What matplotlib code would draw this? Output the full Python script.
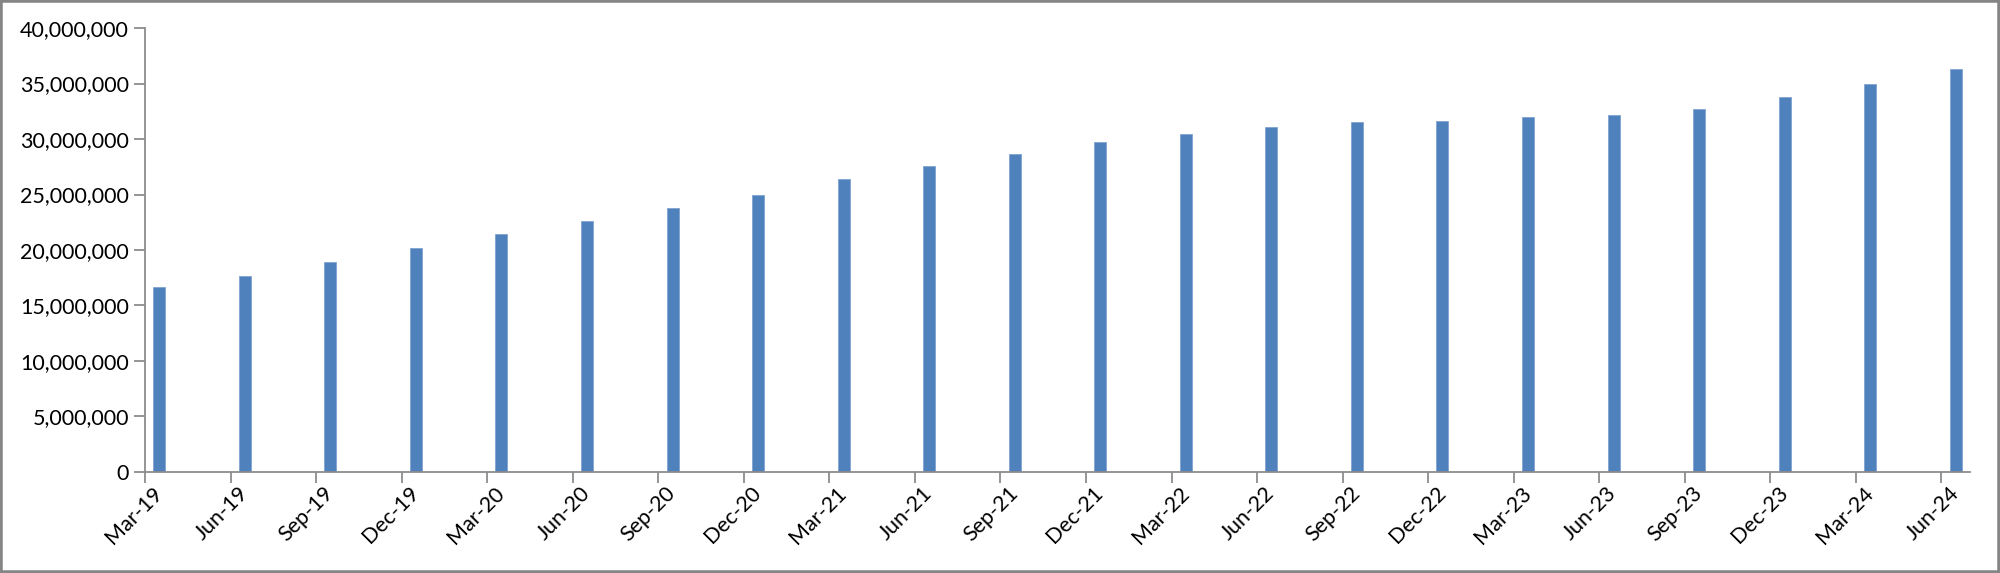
import matplotlib.pyplot as plt
from matplotlib.patches import Rectangle
from matplotlib.ticker import FuncFormatter
import numpy as np

# quarterly values
quarters = ['Mar-19', 'Jun-19', 'Sep-19', 'Dec-19', 'Mar-20', 'Jun-20', 'Sep-20', 'Dec-20',
            'Mar-21', 'Jun-21', 'Sep-21', 'Dec-21', 'Mar-22', 'Jun-22', 'Sep-22', 'Dec-22',
            'Mar-23', 'Jun-23', 'Sep-23', 'Dec-23', 'Mar-24', 'Jun-24']
values = [16640000, 17660000, 18890000, 20180000, 21410000, 22610000, 23810000, 24950000,
          26400000, 27600000, 28620000, 29730000, 30450000, 31050000, 31530000, 31650000,
          31950000, 32140000, 32740000, 33780000, 34980000, 36310000]

plt.rcParams['font.family'] = ['Lato', 'DejaVu Sans']

fig = plt.figure(figsize=(20, 5.73), dpi=100)
ax = fig.add_axes([0.0725, 0.1763, 0.9125, 0.7748])

# date axis in months, one bar per quarter in the first month slot
months = np.arange(len(quarters)) * 3
centers = months + 0.5
ax.bar(centers, values, width=0.42, color='#4F81BD', edgecolor='#7FA3D1', linewidth=0.6)

ax.set_xlim(0, len(quarters) * 3 - 2)
ax.set_ylim(0, 40000000)
ax.set_yticks(np.arange(0, 40000001, 5000000))
ax.yaxis.set_major_formatter(FuncFormatter(lambda v, p: f'{v:,.0f}'))

# ticks on quarter boundaries, labels at the bars
ax.set_xticks(months)
ax.set_xticklabels([])
ax.set_xticks(centers, quarters, minor=True)
ax.tick_params(axis='x', which='minor', length=0, pad=13)
for lab in ax.get_xticklabels(minor=True):
    lab.set_rotation(45)
    lab.set_ha('right')
    lab.set_va('center')
    lab.set_rotation_mode('anchor')

gray = '#8C8C8C'
ax.tick_params(axis='both', which='major', length=8, width=1.3, color=gray, labelsize=15.5)
ax.tick_params(axis='x', which='minor', labelsize=15.5)
for s in ['top', 'right']:
    ax.spines[s].set_visible(False)
for s in ['left', 'bottom']:
    ax.spines[s].set_color(gray)
    ax.spines[s].set_linewidth(1.3)

# outer frame
fig.patches.append(Rectangle((0, 0), 1, 1, transform=fig.transFigure, fill=False,
                             edgecolor='#858585', linewidth=4))

plt.savefig('out.png', dpi=100)
